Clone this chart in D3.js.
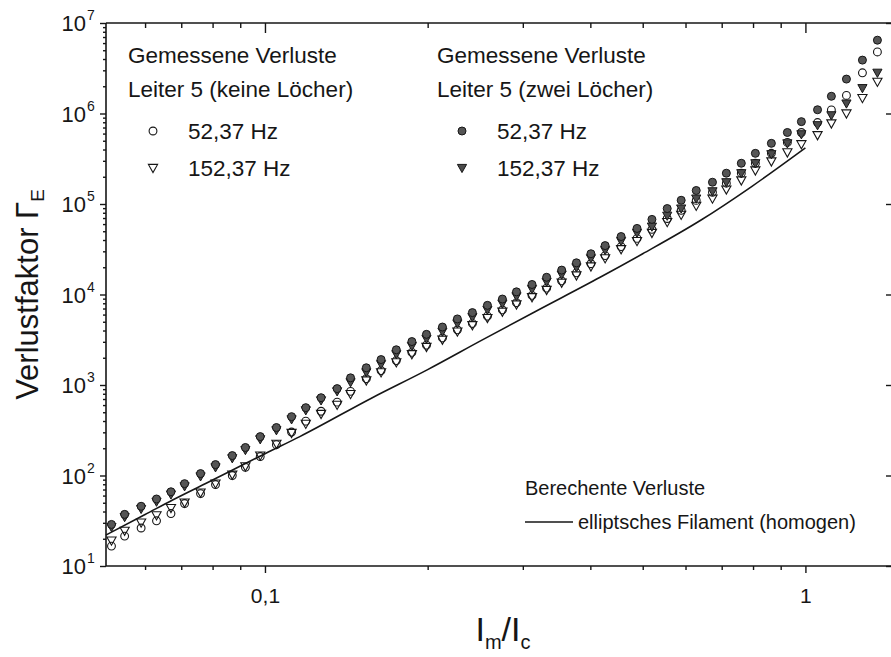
<!DOCTYPE html>
<html>
<head>
<meta charset="utf-8">
<script src="https://cdn.jsdelivr.net/npm/d3@7"></script>
<style>
  html, body { margin: 0; padding: 0; background: #fff; }
  svg { display: block; font-family: "Liberation Sans", Arial, Helvetica, sans-serif; }
</style>
</head>
<body>
<svg id="chart" width="891" height="657"></svg>
<script>
// Normalised current amplitude I_m/I_c for every measurement point
const currentRatio = [0.052,0.055,0.059,0.063,0.067,0.071,0.076,0.081,0.087,0.092,0.098,0.105,0.112,0.119,0.127,0.136,0.144,0.154,0.164,0.175,0.187,0.199,0.213,0.227,0.242,0.258,0.275,0.292,0.312,0.332,0.354,0.377,0.401,0.426,0.456,0.488,0.520,0.555,0.589,0.628,0.673,0.714,0.761,0.808,0.865,0.926,0.983,1.053,1.117,1.191,1.275,1.359];

// Measured loss factor, conductor 5 with two holes
const twoHoles52 = [28.8,37.2,45.7,55.0,66.1,81.3,105,132,166,204,269,339,447,562,724,912,1200,1550,1910,2450,3020,3630,4370,5370,6310,7590,8910,10700,12900,15500,18600,22400,28200,34700,43700,53700,67600,89100,110000,141000,174000,219000,282000,363000,468000,617000,813000,1100000,1550000,2400000,3890000,6460000];
const twoHoles152 = [26.9,34.7,42.7,51.3,61.7,75.9,97.7,123,155,191,251,316,417,525,676,851,1072,1380,1698,2188,2692,3236,3890,4786,5623,6761,7943,9550,11480,13800,16600,19950,25120,30900,38900,47860,56230,74130,89130,114800,138000,173800,218800,281800,354800,467700,588800,741300,955000,1288000,1905000,2818000];

// Measured loss factor, conductor 5 without holes
const noHoles52 = [16.6,21.4,26.3,31.6,38.0,49.0,63.1,79.4,100,123,162,219,302,398,513,646,851,1175,1445,1862,2291,2754,3311,4074,4786,5754,6761,8128,9772,11750,14130,17380,21880,26920,33880,41690,52480,69180,85110,109600,134900,169800,218800,281800,363100,478600,616600,794300,1096000,1585000,2818000,4786000];
const noHoles152 = [19.1,24.5,30.2,36.3,43.7,50.1,64.6,81.3,102,126,166,224,295,372,479,603,794,1122,1380,1778,2188,2630,3162,3890,4571,5495,6457,7762,9333,11220,13490,16220,20420,25120,31620,38900,47860,63100,75860,95500,114800,144500,182000,234400,295100,371500,457100,575400,776200,1000000,1479000,2239000];

// Calculated losses, elliptical filament (homogeneous)
const modelX = [0.0508,0.06,0.0676,0.08,0.0912,0.1,0.116,0.158,0.2,0.251,0.316,0.417,0.5,0.64,0.794,1.0];
const modelY = [22,37,54,89,132,174,269,724,1479,3090,6457,15490,28180,66070,154900,416900];

// Axis ticks
const xMajorTicks = [0.1, 1];
const xMajorLabels = ["0,1", "1"];
const xMinorTicks = [0.06,0.07,0.08,0.09,0.2,0.3,0.4,0.5,0.6,0.7,0.8,0.9];
const yExponents = [1,2,3,4,5,6,7];

const svg = d3.select("#chart");
const plotLeft = 106, plotRight = 891, plotTop = 23, plotBottom = 566;
const ink = "#161616";

const x = d3.scaleLog().domain([0.0508, 1.44]).range([plotLeft, plotRight]);
const y = d3.scaleLog().domain([10, 1e7]).range([plotBottom, plotTop]);

const yMajorTicks = yExponents.map(e => Math.pow(10, e));
const yMinorTicks = [];
yExponents.slice(0, -1).forEach(e => {
  for (let m = 2; m <= 9; m++) yMinorTicks.push(m * Math.pow(10, e));
});

function tidy(g) {
  g.select(".domain").remove();
  g.selectAll(".tick line").attr("stroke", ink).attr("stroke-width", 1.4);
}

// bottom axis: outward ticks with labels
svg.append("g").attr("transform", `translate(0,${plotBottom})`)
  .call(d3.axisBottom(x).tickValues(xMajorTicks).tickSize(7).tickPadding(15)
        .tickFormat((d, i) => xMajorLabels[i]))
  .call(tidy)
  .call(g => g.selectAll("text").attr("font-size", 21).attr("fill", ink)
        .attr("font-family", "Liberation Sans, Arial, sans-serif"));
svg.append("g").attr("transform", `translate(0,${plotBottom})`)
  .call(d3.axisBottom(x).tickValues(xMinorTicks).tickSize(4).tickFormat(""))
  .call(tidy);

// top axis: inward ticks
svg.append("g").attr("transform", `translate(0,${plotTop})`)
  .call(d3.axisTop(x).tickValues(xMajorTicks).tickSize(-10).tickFormat(""))
  .call(tidy);
svg.append("g").attr("transform", `translate(0,${plotTop})`)
  .call(d3.axisTop(x).tickValues(xMinorTicks).tickSize(-5).tickFormat(""))
  .call(tidy);

// left axis: outward ticks, power-of-ten labels
svg.append("g").attr("transform", `translate(${plotLeft},0)`)
  .call(d3.axisLeft(y).tickValues(yMajorTicks).tickSize(6).tickFormat(""))
  .call(tidy);
svg.append("g").attr("transform", `translate(${plotLeft},0)`)
  .call(d3.axisLeft(y).tickValues(yMinorTicks).tickSize(3).tickFormat(""))
  .call(tidy);

// right axis: inward ticks only
svg.append("g").attr("transform", `translate(${plotRight},0)`)
  .call(d3.axisRight(y).tickValues(yMajorTicks).tickSize(-5).tickFormat(""))
  .call(tidy);

// frame
const frame = svg.append("g").attr("stroke", ink).attr("stroke-width", 1.6).attr("fill", "none");
frame.append("line").attr("x1", plotLeft).attr("x2", plotLeft).attr("y1", plotTop).attr("y2", plotBottom);
frame.append("line").attr("x1", plotLeft).attr("x2", plotRight).attr("y1", plotTop).attr("y2", plotTop);
frame.append("line").attr("x1", plotLeft).attr("x2", plotRight).attr("y1", plotBottom).attr("y2", plotBottom);

// y tick labels 10^n
const yLab = svg.append("g").attr("fill", ink);
yExponents.forEach(e => {
  const yy = y(Math.pow(10, e));
  yLab.append("text").attr("x", 86).attr("y", yy + 8).attr("text-anchor", "end")
    .attr("font-size", 22).text("10");
  yLab.append("text").attr("x", 87).attr("y", yy - 3).attr("text-anchor", "start")
    .attr("font-size", 14).text(String(e));
});

// axis titles
const yTitle = svg.append("text")
  .attr("transform", `translate(38,${(plotTop + plotBottom) / 2}) rotate(-90)`)
  .attr("text-anchor", "middle").attr("font-size", 31).attr("fill", ink);
yTitle.append("tspan").text("Verlustfaktor \u0393");
yTitle.append("tspan").attr("font-size", 19).attr("dy", 6).text("E");

const xTitle = svg.append("text").attr("x", 503).attr("y", 641)
  .attr("text-anchor", "middle").attr("font-size", 34).attr("fill", ink);
xTitle.append("tspan").text("I");
xTitle.append("tspan").attr("font-size", 20).attr("dy", 8).text("m");
xTitle.append("tspan").attr("dy", -8).text("/I");
xTitle.append("tspan").attr("font-size", 20).attr("dy", 8).text("c");

// calculated curve
const line = d3.line().x(d => x(d[0])).y(d => y(d[1])).curve(d3.curveMonotoneX);
svg.append("path").datum(modelX.map((v, i) => [v, modelY[i]]))
  .attr("d", line).attr("fill", "none").attr("stroke", ink).attr("stroke-width", 1.6);

// marker styles
const triPath = "M-4.6,-3.6L4.6,-3.6L0,4.6Z";
const markers = {
  openCircle: g => g.append("circle").attr("r", 3.9).attr("fill", "none").attr("stroke", ink).attr("stroke-width", 1.1),
  openTri: g => g.append("path").attr("d", triPath).attr("fill", "none").attr("stroke", ink).attr("stroke-width", 1.1),
  fillTri: g => g.append("path").attr("d", triPath).attr("fill", "#4b4b4b").attr("stroke", ink).attr("stroke-width", 1),
  fillCircle: g => g.append("circle").attr("r", 4).attr("fill", "#555").attr("stroke", ink).attr("stroke-width", 1)
};

function drawSeries(values, kind) {
  const g = svg.append("g");
  values.forEach((v, i) => {
    const p = g.append("g").attr("transform", `translate(${x(currentRatio[i])},${y(v)})`);
    markers[kind](p);
  });
}
drawSeries(noHoles52, "openCircle");
drawSeries(noHoles152, "openTri");
drawSeries(twoHoles152, "fillTri");
drawSeries(twoHoles52, "fillCircle");

// legends
const leg = svg.append("g").attr("fill", ink).attr("font-size", 22.5);
function legendBlock(x0, title2, kinds) {
  leg.append("text").attr("x", x0).attr("y", 63).text("Gemessene Verluste");
  leg.append("text").attr("x", x0).attr("y", 97).text(title2);
  const rows = [["52,37 Hz", 131], ["152,37 Hz", 168]];
  rows.forEach((r, i) => {
    leg.append("text").attr("x", x0 + 60).attr("y", r[1] + 8).text(r[0]);
    markers[kinds[i]](svg.append("g").attr("transform", `translate(${x0 + 25},${r[1]})`));
  });
}
legendBlock(128, "Leiter 5 (keine L\u00f6cher)", ["openCircle", "openTri"]);
legendBlock(437, "Leiter 5 (zwei L\u00f6cher)", ["fillCircle", "fillTri"]);

const calc = svg.append("g").attr("fill", ink).attr("font-size", 20);
calc.append("text").attr("x", 525).attr("y", 495).text("Berechente Verluste");
calc.append("text").attr("x", 578).attr("y", 529).text("elliptsches Filament (homogen)");
svg.append("line").attr("x1", 525).attr("x2", 573).attr("y1", 522).attr("y2", 522)
  .attr("stroke", ink).attr("stroke-width", 1.6);
</script>
</body>
</html>
